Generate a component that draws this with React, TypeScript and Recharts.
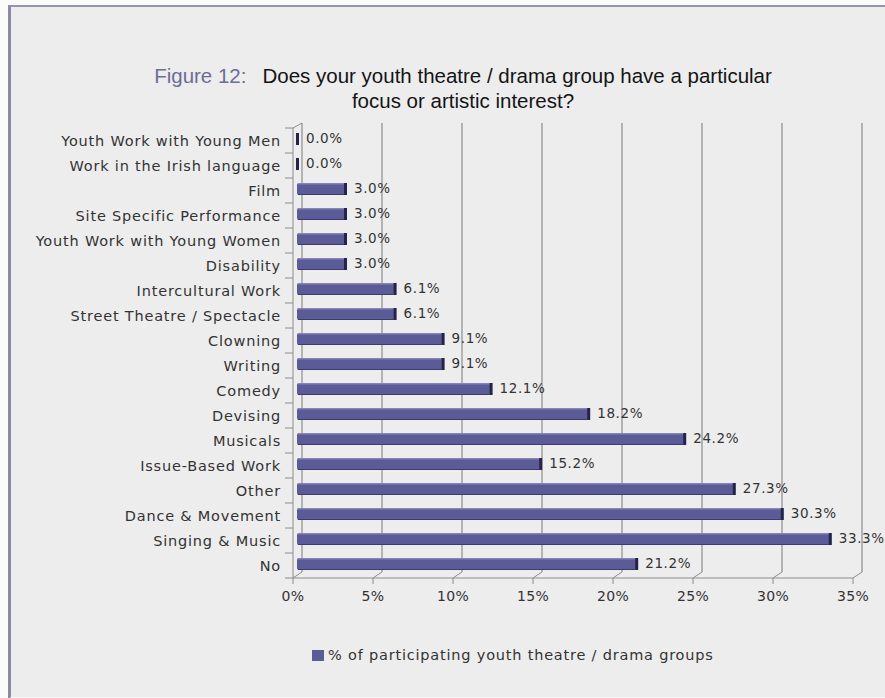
import { BarChart, Bar, XAxis, YAxis, CartesianGrid, LabelList } from 'recharts'

// focus / artistic interest categories, top row first
const categories = [
  'Youth Work with Young Men',
  'Work in the Irish language',
  'Film',
  'Site Specific Performance',
  'Youth Work with Young Women',
  'Disability',
  'Intercultural Work',
  'Street Theatre / Spectacle',
  'Clowning',
  'Writing',
  'Comedy',
  'Devising',
  'Musicals',
  'Issue-Based Work',
  'Other',
  'Dance & Movement',
  'Singing & Music',
  'No',
]

// % of participating youth theatre / drama groups
const percents = [0.0, 0.0, 3.0, 3.0, 3.0, 3.0, 6.1, 6.1, 9.1, 9.1, 12.1, 18.2, 24.2, 15.2, 27.3, 30.3, 33.3, 21.2]

const xTicks = [0, 5, 10, 15, 20, 25, 30, 35]

const SERIES_NAME = '% of participating youth theatre / drama groups'

const data = categories.map((name, i) => ({ name, value: percents[i] }))

const W = 885
const H = 698
const FONT = '"DejaVu Sans", Verdana, sans-serif'
const TEXT = '#333333'
const BAR = '#5b5b97'
const BAR_END = '#24244a'
const GRID = '#8c8c8c'

// fake 3D depth: bars sit a little behind the front axis, gridlines on the back wall
const BAR_SHIFT = 4
const DEPTH_X = 9
const DEPTH_Y = 6

const PLOT_TOP = 128
const PLOT_BOTTOM = 578
const ROW = (PLOT_BOTTOM - PLOT_TOP) / categories.length

// bar with a darker end face, nudged back into the chart depth
const Bar3D = (props: any) => {
  const { x, y, width, height } = props
  const bx = x + BAR_SHIFT
  const by = y - 2
  const w = Math.max(width, 0)
  return (
    <g>
      {w > 0 && (
        <>
          <rect x={bx} y={by} width={w} height={height} rx={2} fill={BAR} />
          <rect x={bx + 1} y={by} width={Math.max(w - 2, 0)} height={1.5} fill="#8484b6" />
          <rect x={bx + 1} y={by + height - 1} width={Math.max(w - 2, 0)} height={1} fill="#3c3c6c" />
        </>
      )}
      <rect x={bx + w - 1} y={by} width={3} height={height} fill={BAR_END} />
    </g>
  )
}

// back-wall gridline plus the short slanted floor edge down to the front axis
const BackGridLine = (props: any) => {
  const { x1, y1, y2, index } = props
  const bx = x1 + DEPTH_X
  return (
    <g key={`grid-${index}-${x1}`}>
      <line x1={bx} y1={y1 - DEPTH_Y + 1} x2={bx} y2={y2 - DEPTH_Y} stroke={GRID} strokeWidth={1.2} />
      <line x1={x1} y1={y2} x2={bx} y2={y2 - DEPTH_Y} stroke={GRID} strokeWidth={1} />
      {index === 0 && <line x1={x1} y1={y1} x2={bx} y2={y1 - DEPTH_Y + 1} stroke={GRID} strokeWidth={1} />}
    </g>
  )
}

const CategoryTick = (props: any) => {
  const { x, y, payload, index } = props
  const axisX = x + 12
  const last = index === categories.length - 1
  return (
    <g>
      <line x1={axisX - 8} y1={y - ROW / 2} x2={axisX} y2={y - ROW / 2} stroke={GRID} />
      {last && <line x1={axisX - 8} y1={y + ROW / 2} x2={axisX} y2={y + ROW / 2} stroke={GRID} />}
      <text
        x={x}
        y={y}
        dy={5}
        textAnchor="end"
        fontFamily={FONT}
        fontSize={14.5}
        letterSpacing={0.8}
        fill={TEXT}
      >
        {payload.value}
      </text>
    </g>
  )
}

const PercentTick = (props: any) => {
  const { x, y, payload } = props
  return (
    <text x={x} y={y} dy={15} textAnchor="middle" fontFamily={FONT} fontSize={14} letterSpacing={0.3} fill={TEXT}>
      {`${payload.value}%`}
    </text>
  )
}

const ValueLabel = (props: any) => {
  const { x, y, width, height, value } = props
  return (
    <text
      x={x + width + BAR_SHIFT + 9}
      y={y + height / 2 - 2}
      dy={4}
      fontFamily={FONT}
      fontSize={13.5}
      letterSpacing={0.6}
      fill={TEXT}
    >
      {`${Number(value).toFixed(1)}%`}
    </text>
  )
}

export default function App() {
  return (
    <div style={{ position: 'absolute', left: 0, top: 0, width: W, height: H, background: '#fbfbfb', overflow: 'hidden' }}>
      {/* panel frame */}
      <div
        style={{
          position: 'absolute',
          left: 8,
          top: 5,
          width: W,
          height: H - 8,
          background: '#ededee',
          borderLeft: '3px solid #8a8aa4',
          borderTop: '2px solid #9494ac',
          borderBottom: '2px solid #f6f6f6',
        }}
      />

      {/* title */}
      <div
        style={{
          position: 'absolute',
          left: 0,
          top: 63,
          width: 926,
          textAlign: 'center',
          fontFamily: '"Liberation Sans Narrow", "Liberation Sans", Arial, sans-serif',
          fontSize: 20.5,
          lineHeight: '25px',
          color: '#141414',
        }}
      >
        <div>
          <span style={{ color: '#6c6c96', marginRight: 16 }}>Figure 12:</span>
          Does your youth theatre / drama group have a particular
        </div>
        <div>focus or artistic interest?</div>
      </div>

      <div style={{ position: 'absolute', left: 0, top: 0 }}>
        <BarChart
          width={W}
          height={H}
          data={data}
          layout="vertical"
          barSize={12}
          margin={{ top: PLOT_TOP, right: 32, bottom: H - PLOT_BOTTOM - 30, left: 0 }}
        >
          <CartesianGrid horizontal={false} vertical={BackGridLine} />
          <XAxis
            type="number"
            domain={[0, 35]}
            ticks={xTicks}
            height={30}
            axisLine={{ stroke: GRID }}
            tickLine={{ stroke: GRID }}
            tickSize={6}
            tick={PercentTick}
            interval={0}
          />
          <YAxis
            type="category"
            dataKey="name"
            width={293}
            axisLine={{ stroke: GRID }}
            tickLine={false}
            tickSize={0}
            tickMargin={12}
            tick={CategoryTick}
            interval={0}
          />
          <Bar dataKey="value" name={SERIES_NAME} fill={BAR} shape={Bar3D} isAnimationActive={false}>
            <LabelList dataKey="value" content={ValueLabel} />
          </Bar>
        </BarChart>
      </div>

      {/* legend */}
      <div
        style={{
          position: 'absolute',
          left: 312,
          top: 647,
          display: 'flex',
          alignItems: 'center',
          fontFamily: FONT,
          fontSize: 14.5,
          letterSpacing: 0.8,
          color: TEXT,
          whiteSpace: 'nowrap',
        }}
      >
        <span style={{ display: 'inline-block', width: 12, height: 11, background: BAR, marginRight: 4 }} />
        {SERIES_NAME}
      </div>
    </div>
  )
}
